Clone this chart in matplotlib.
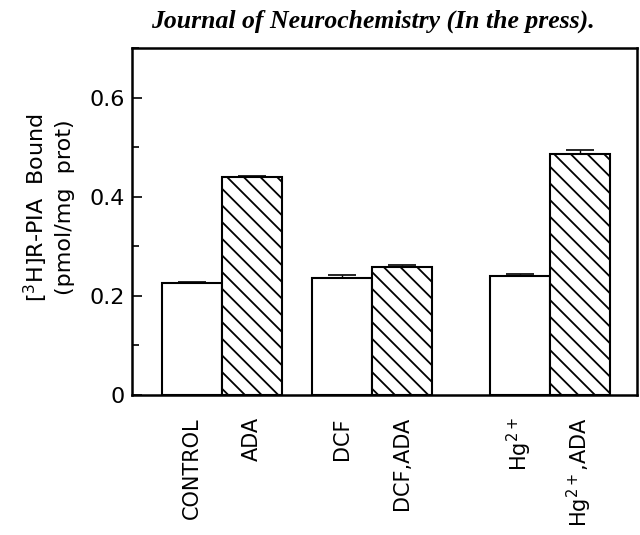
import matplotlib
matplotlib.use("Agg")
import matplotlib.pyplot as plt
from matplotlib.ticker import MultipleLocator

# Binding of [3H]R-PIA for each treatment (mean and upper error)
conditions = ["CONTROL", "ADA", "DCF", "DCF,ADA", "Hg$^{2+}$", "Hg$^{2+}$,ADA"]
bound = [0.227, 0.440, 0.236, 0.258, 0.241, 0.487]
bound_err = [0.002, 0.002, 0.006, 0.005, 0.003, 0.008]
with_ada = [False, True, False, True, False, True]
positions = [1.0, 2.0, 3.5, 4.5, 6.45, 7.45]

plt.rcParams["font.family"] = "DejaVu Sans"
plt.rcParams["hatch.linewidth"] = 1.3

fig = plt.figure(figsize=(6.4, 5.35), dpi=100)
ax = fig.add_axes([0.206, 0.2617, 0.789, 0.6495])

for x, y, hatched in zip(positions, bound, with_ada):
    ax.bar(x, y, width=1.0, facecolor="white", edgecolor="black",
           linewidth=1.5, hatch="\\\\" if hatched else None, zorder=2)

ax.errorbar(positions, bound, yerr=[[0] * len(bound), bound_err],
            fmt="none", ecolor="black", elinewidth=1.0, capsize=10,
            capthick=1.2, zorder=3)

ax.set_xlim(0, 8.4)
ax.set_ylim(0, 0.702)
ax.yaxis.set_minor_locator(MultipleLocator(0.1))
ax.set_yticks([0, 0.2, 0.4, 0.6])
ax.set_yticklabels(["0", "0.2", "0.4", "0.6"])
ax.tick_params(axis="y", which="major", direction="in", length=7, width=1.2,
               labelsize=16, pad=5)
ax.tick_params(axis="y", which="minor", direction="in", length=5, width=1.2)

ax.set_xticks(positions)
ax.set_xticklabels(conditions, rotation=90)
ax.tick_params(axis="x", length=0, labelsize=15, pad=16)

for side in ax.spines.values():
    side.set_linewidth(1.8)

ax.set_ylabel("[$^3$H]R-PIA  Bound\n(pmol/mg  prot)", fontsize=16,
              linespacing=1.35)
ax.yaxis.set_label_coords(-0.112, 0.54)

fig.text(0.583, 0.961, "Journal of Neurochemistry (In the press).",
         ha="center", va="center", fontsize=18.5, family="Liberation Serif",
         style="italic", weight="bold")

fig.savefig("out.png", dpi=100)
